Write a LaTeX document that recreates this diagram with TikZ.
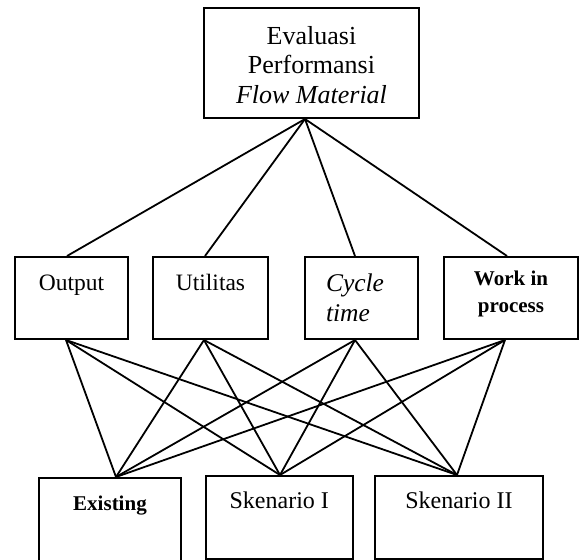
\documentclass[tikz,border=0pt]{standalone}
\usepackage{fontspec}
\setmainfont{Liberation Serif}
\usetikzlibrary{positioning}

\begin{document}
\begin{tikzpicture}[
        x=0.5pt, y=-0.5pt,
        box/.style={rectangle, draw=black, line width=1pt, inner sep=0pt, anchor=north, align=center},
        head/.style={box, font=\fontsize{13}{14.75}\selectfont, minimum width=107.5pt, text height=47.5pt, text depth=7.5pt},
        crit/.style={box, font=\fontsize{11.75}{14}\selectfont, text height=16.5pt, text depth=24.5pt},
        alt/.style={box, minimum width=0pt, text height=16pt},
        link/.style={line width=0.9pt}
    ]
        \useasboundingbox (0,0) rectangle (580,559);
        \clip (0,0) rectangle (580,559);

        \node[head] (eval) at (311.5, 7) {Evaluasi\\ Performansi\\ \textit{Flow Material}};

        \node[crit, minimum width=56.5pt] (out)  at (71.5, 256)  {Output};
        \node[crit, minimum width=57.5pt] (util) at (210.5, 256) {Utilitas};
        \node[crit, minimum width=56.5pt, align=left, inner xsep=10.5pt, text width=35.5pt,
              font=\fontsize{12.75}{15}\selectfont\itshape, text height=17.35pt, text depth=23.65pt]
              (cyc) at (361.5, 256) {Cycle\\ time};
        \node[crit, minimum width=67pt, font=\fontsize{10.5}{13.5}\selectfont\bfseries,
              text height=27.85pt, text depth=13.15pt] (wip) at (511, 256) {Work in\\ process};

        \node[alt, minimum width=71pt, font=\fontsize{10.5}{12}\selectfont\bfseries,
              text depth=28pt] (ex) at (110, 477) {Existing};
        \node[alt, minimum width=73.3pt, font=\fontsize{12}{14}\selectfont,
              text depth=25.5pt] (sk1) at (279.3, 475) {Skenario I};
        \node[alt, minimum width=84pt, font=\fontsize{12}{14}\selectfont,
              text depth=25.5pt] (sk2) at (459, 475) {Skenario II};

        \draw[link] ([xshift=-3.25pt]eval.south) -- ([xshift=-2.25pt]out.north);
        \draw[link] ([xshift=-3.25pt]eval.south) -- ([xshift=-2.75pt]util.north);
        \draw[link] ([xshift=-3.25pt]eval.south) -- ([xshift=-3.25pt]cyc.north);
        \draw[link] ([xshift=-3.25pt]eval.south) -- ([xshift=-2pt]wip.north);

        \draw[link] ([xshift=-2.75pt]out.south)  -- ([xshift=3pt]ex.north);
        \draw[link] ([xshift=-2.75pt]out.south)  -- ([xshift=0.35pt]sk1.north);
        \draw[link] ([xshift=-2.75pt]out.south)  -- ([xshift=-1pt]sk2.north);
        \draw[link] ([xshift=-3.25pt]util.south) -- ([xshift=3pt]ex.north);
        \draw[link] ([xshift=-3.25pt]util.south) -- ([xshift=0.35pt]sk1.north);
        \draw[link] ([xshift=-3.25pt]util.south) -- ([xshift=-1pt]sk2.north);
        \draw[link] ([xshift=-3.25pt]cyc.south)  -- ([xshift=3pt]ex.north);
        \draw[link] ([xshift=-3.25pt]cyc.south)  -- ([xshift=0.35pt]sk1.north);
        \draw[link] ([xshift=-3.25pt]cyc.south)  -- ([xshift=-1pt]sk2.north);
        \draw[link] ([xshift=-3pt]wip.south)     -- ([xshift=3pt]ex.north);
        \draw[link] ([xshift=-3pt]wip.south)     -- ([xshift=0.35pt]sk1.north);
        \draw[link] ([xshift=-3pt]wip.south)     -- ([xshift=-1pt]sk2.north);
    \end{tikzpicture}
\end{document}
